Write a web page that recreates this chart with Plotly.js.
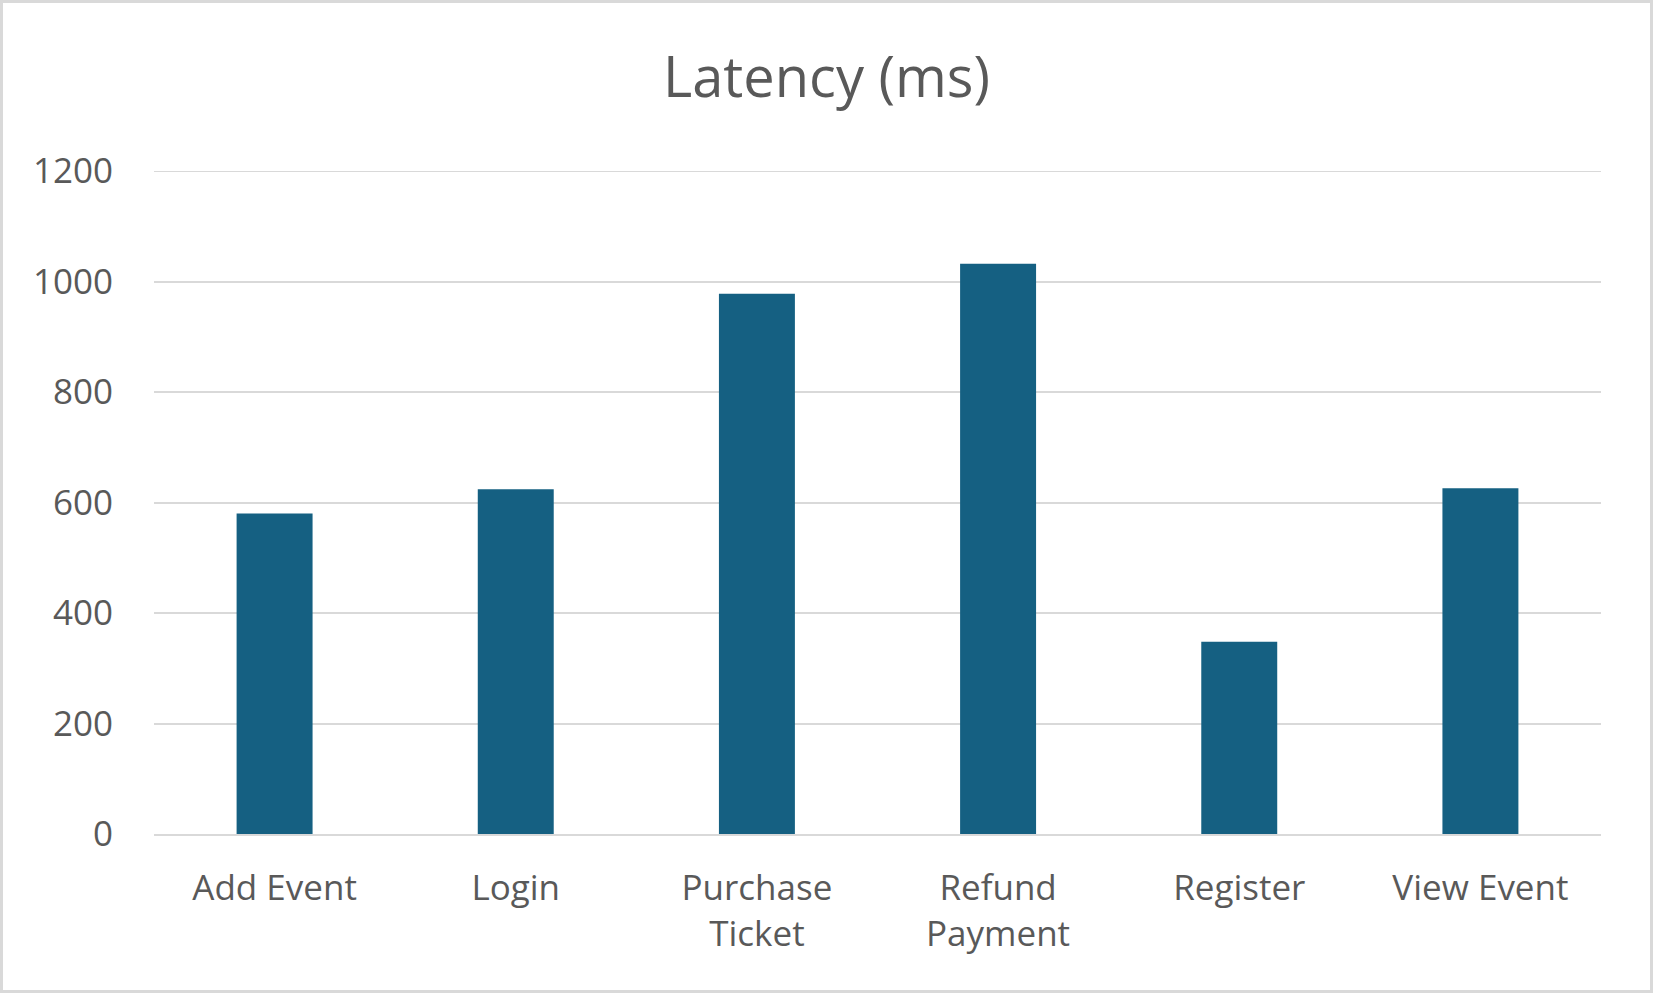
<!DOCTYPE html>
<html>
<head>
<meta charset="utf-8">
<script src="https://cdn.plot.ly/plotly-3.0.1.min.js"></script>
<style>
  html, body { margin: 0; padding: 0; background: #ffffff; }
  #chart { width: 1653px; height: 993px; position: relative; }
  #frame { position: absolute; left: 0; top: 0; width: 1653px; height: 993px; box-sizing: border-box; border: 3px solid #d9d9d9; pointer-events: none; }
</style>
</head>
<body>
<div id="chart"></div>
<div id="frame"></div>
<script>
const categories = ['Add Event', 'Login', 'Purchase<br>Ticket', 'Refund<br>Payment', 'Register', 'View Event'];
const latencyMs = [580, 624, 978, 1032, 348, 626];
const yTicks = [0, 200, 400, 600, 800, 1000, 1200];

const FONT = '"Open Sans", "Noto Sans", sans-serif';
const TEXT = '#595959';
const GRID = '#d9d9d9';

const trace = {
  type: 'bar',
  x: categories,
  y: latencyMs,
  marker: { color: '#156082' },
  hoverinfo: 'x+y'
};

const yMax = yTicks[yTicks.length - 1];

const layout = {
  width: 1653,
  height: 993,
  margin: { l: 154, r: 52, t: 171, b: 159 },
  paper_bgcolor: '#ffffff',
  plot_bgcolor: '#ffffff',
  bargap: 0.685,
  showlegend: false,
  title: {
    text: 'Latency (ms)',
    font: { family: FONT, size: 56, color: TEXT },
    x: 0.5, xref: 'container', xanchor: 'center',
    y: 0.922, yref: 'container', yanchor: 'middle'
  },
  font: { family: FONT, color: TEXT },
  xaxis: {
    type: 'category',
    showgrid: false,
    showline: true,
    linecolor: GRID,
    linewidth: 2,
    ticks: '',
    tickfont: { family: FONT, size: 35, color: TEXT },
    ticklabelstandoff: 22,
    zeroline: false
  },
  yaxis: {
    range: [0, yMax],
    tickvals: yTicks,
    ticktext: yTicks.map(String),
    showgrid: true,
    gridcolor: GRID,
    gridwidth: 2,
    showline: false,
    zeroline: false,
    ticks: '',
    tickfont: { family: FONT, size: 35, color: TEXT },
    ticklabelstandoff: 40
  },
  shapes: [{
    type: 'line', xref: 'paper', yref: 'y',
    x0: 0, x1: 1, y0: yMax, y1: yMax,
    line: { color: GRID, width: 2 },
    layer: 'below'
  }]
};

Plotly.newPlot('chart', [trace], layout, { displayModeBar: false, staticPlot: true });
</script>
</body>
</html>
